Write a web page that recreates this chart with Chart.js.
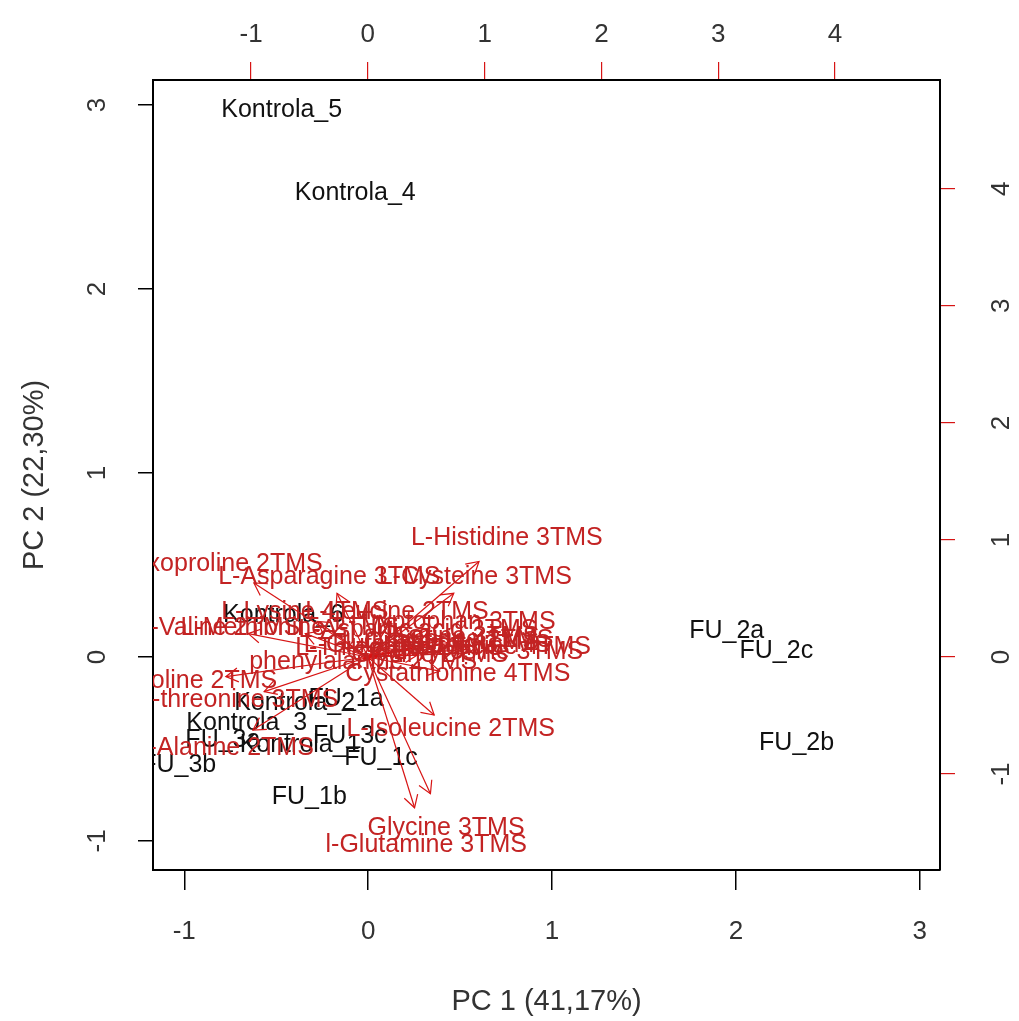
<!DOCTYPE html>
<html>
<head>
<meta charset="utf-8">
<script src="https://cdn.jsdelivr.net/npm/chart.js@4.4.0/dist/chart.umd.min.js"></script>
<style>
  html, body { margin: 0; padding: 0; background: #fff; }
  #wrap { width: 1019px; height: 1021px; }
</style>
</head>
<body>
<div id="wrap"><canvas id="biplot" width="1019" height="1021"></canvas></div>
<script>
// sample scores (PC 1 / PC 2)
const sampleNames = ['Kontrola_5', 'Kontrola_4', 'Kontrola_6', 'Kontrola_2', 'Kontrola_3', 'Kontrola_1',
    'FU_1a', 'FU_1b', 'FU_1c', 'FU_2a', 'FU_2b', 'FU_2c', 'FU_3a', 'FU_3b', 'FU_3c'];
const samplePC1 = [-0.47, -0.07, -0.46, -0.40, -0.66, -0.37, -0.12, -0.32, 0.07, 1.95, 2.33, 2.22, -0.79, -1.03, -0.10];
const samplePC2 = [2.97, 2.52, 0.23, -0.25, -0.36, -0.48, -0.23, -0.76, -0.55, 0.14, -0.47, 0.03, -0.45, -0.59, -0.43];

// variable loadings (top / right axes)
const varNames = ['L-Histidine 3TMS', 'L-Cysteine 3TMS', 'L-Asparagine 3TMS', 'Oxoproline 2TMS',
    'L-Lysine 4TMS', 'L-Leucine 2TMS', 'L-Valine 2TMS', 'L-Methionine 2TMS', 'L-Tryptophan 3TMS',
    'L-Aspartic acid 3TMS', 'L-Serine 3TMS', 'L-Serine 2TMS', 'L-Ornithine 4TMS', 'L-Threonine 2TMS',
    'Putrescine 4TMS', 'L-Glutamic acid 3TMS', 'L-Tyrosine 3TMS', 'Glycine 2TMS', 'phenylalanine 2TMS',
    'Cystathionine 4TMS', 'L-Proline 2TMS', 'L-threonine 3TMS', 'L-Alanine 2TMS', 'L-Isoleucine 2TMS',
    'Glycine 3TMS', 'l-Glutamine 3TMS'];
const varPC1 = [1.19, 0.92, -0.33, -1.22, -0.54, 0.25, -1.28, -0.67, 0.66, 0.43, 0.75, 0.87, 0.62, 0.27,
    1.09, 0.51, 1.03, 0.53, -0.04, 0.77, -1.52, -1.11, -1.23, 0.71, 0.67, 0.50];
const varPC2 = [1.02, 0.68, 0.68, 0.79, 0.38, 0.38, 0.25, 0.25, 0.30, 0.23, 0.17, 0.145, 0.13, 0.08,
    0.085, 0.10, 0.04, 0.02, -0.04, -0.15, -0.21, -0.37, -0.78, -0.62, -1.46, -1.61];

// tick labels
const pc1Ticks = [-1, 0, 1, 2, 3];
const pc2Ticks = [-1, 0, 1, 2, 3];
const loadXTicks = [-1, 0, 1, 2, 3, 4];
const loadYTicks = [-1, 0, 1, 2, 3, 4];

const RED = 'rgb(215, 20, 20)';
const TXT = 'rgb(195, 35, 35)';
const labelFont = '25px "Liberation Sans", Arial, sans-serif';
const tickFamily = '"Liberation Sans Narrow", "Liberation Sans", Arial, sans-serif';

const samplePoints = sampleNames.map((n, i) => ({ x: samplePC1[i], y: samplePC2[i] }));
const varPoints = varNames.map((n, i) => ({ x: varPC1[i], y: varPC2[i] }));

// R biplot draws the arrows to 0.8 of the loading, text at the loading
const arrowSets = varNames.map((n, i) => ({
    label: n,
    data: [{ x: 0, y: 0 }, { x: 0.8 * varPC1[i], y: 0.8 * varPC2[i] }],
    xAxisID: 'x2',
    yAxisID: 'y2',
    showLine: true,
    borderColor: RED,
    borderWidth: 1.2,
    pointRadius: 0
}));

const biplotText = {
    id: 'biplotText',
    beforeDatasetsDraw(chart) {
        const {ctx, chartArea: a} = chart;
        const meta = chart.getDatasetMeta(0);
        ctx.save();
        ctx.beginPath();
        ctx.rect(a.left, a.top, a.right - a.left, a.bottom - a.top);
        ctx.clip();
        ctx.font = labelFont;
        ctx.fillStyle = '#111';
        ctx.textAlign = 'center';
        ctx.textBaseline = 'middle';
        meta.data.forEach((p, i) => ctx.fillText(sampleNames[i], p.x, p.y));
        ctx.restore();
    },
    afterDatasetsDraw(chart) {
        const {ctx, chartArea: a} = chart;
        ctx.save();
        ctx.beginPath();
        ctx.rect(a.left, a.top, a.right - a.left, a.bottom - a.top);
        ctx.clip();
        // arrow heads
        ctx.strokeStyle = RED;
        ctx.lineWidth = 1.2;
        for (let i = 0; i < varNames.length; i++) {
            const pts = chart.getDatasetMeta(2 + i).data;
            const x0 = pts[0].x, y0 = pts[0].y, x1 = pts[1].x, y1 = pts[1].y;
            const ang = Math.atan2(y1 - y0, x1 - x0);
            const len = 14;
            ctx.beginPath();
            ctx.moveTo(x1 - len * Math.cos(ang - Math.PI / 6), y1 - len * Math.sin(ang - Math.PI / 6));
            ctx.lineTo(x1, y1);
            ctx.lineTo(x1 - len * Math.cos(ang + Math.PI / 6), y1 - len * Math.sin(ang + Math.PI / 6));
            ctx.stroke();
        }
        // variable names
        const meta = chart.getDatasetMeta(1);
        ctx.font = labelFont;
        ctx.fillStyle = TXT;
        ctx.textAlign = 'center';
        ctx.textBaseline = 'middle';
        meta.data.forEach((p, i) => ctx.fillText(varNames[i], p.x, p.y));
        ctx.restore();
    },
    afterDraw(chart) {
        // R writes the vertical axis labels parallel to the axis
        const {ctx} = chart;
        ctx.save();
        ctx.font = '26px ' + tickFamily;
        ctx.fillStyle = '#333';
        ctx.textAlign = 'center';
        ctx.textBaseline = 'middle';
        [['y', 98], ['y2', 1002]].forEach(([id, xPos]) => {
            const s = chart.scales[id];
            s.ticks.forEach(t => {
                const py = s.getPixelForValue(t.value);
                ctx.save();
                ctx.translate(xPos, py);
                ctx.rotate(-Math.PI / 2);
                ctx.fillText(String(t.value), 0, 0);
                ctx.restore();
            });
        });
        ctx.restore();
    }
};

const setTicks = arr => scale => { scale.ticks = arr.map(v => ({ value: v })); };

new Chart(document.getElementById('biplot'), {
    type: 'scatter',
    data: {
        datasets: [
            { label: 'samples', data: samplePoints, xAxisID: 'x', yAxisID: 'y', pointRadius: 0 },
            { label: 'variables', data: varPoints, xAxisID: 'x2', yAxisID: 'y2', pointRadius: 0 },
            ...arrowSets
        ]
    },
    options: {
        responsive: false,
        animation: false,
        layout: { padding: 0 },
        plugins: { legend: { display: false }, tooltip: { enabled: false } },
        scales: {
            x: {
                type: 'linear', position: 'bottom', min: -1.17, max: 3.11,
                afterBuildTicks: setTicks(pc1Ticks),
                afterFit: s => { s.height = 151; },
                grid: { drawOnChartArea: false, tickLength: 20, color: '#000', lineWidth: 1.5 },
                border: { color: '#000', width: 2 },
                ticks: { color: '#333', padding: 26, font: { family: tickFamily, size: 26 } },
                title: { display: true, text: 'PC 1 (41,17%)', color: '#333', padding: { top: 0, bottom: 2 },
                    font: { family: tickFamily, size: 29 } }
            },
            y: {
                type: 'linear', position: 'left', min: -1.158, max: 3.136,
                afterBuildTicks: setTicks(pc2Ticks),
                afterFit: s => { s.width = 153; },
                grid: { drawOnChartArea: false, tickLength: 15, color: '#000', lineWidth: 1.5 },
                border: { color: '#000', width: 2 },
                ticks: { display: false },
                title: { display: true, text: 'PC 2 (22,30%)', color: '#333', padding: { top: 18, bottom: 0 },
                    font: { family: tickFamily, size: 29 } }
            },
            x2: {
                type: 'linear', position: 'top', min: -1.84, max: 4.90,
                afterBuildTicks: setTicks(loadXTicks),
                afterFit: s => { s.height = 80; },
                grid: { drawOnChartArea: false, tickLength: 18, color: RED, lineWidth: 1.2 },
                border: { color: '#000', width: 2 },
                ticks: { color: '#333', padding: 12, font: { family: tickFamily, size: 26 } }
            },
            y2: {
                type: 'linear', position: 'right', min: -1.82, max: 4.93,
                afterBuildTicks: setTicks(loadYTicks),
                afterFit: s => { s.width = 79; },
                grid: { drawOnChartArea: false, tickLength: 15, color: RED, lineWidth: 1.2 },
                border: { color: '#000', width: 2 },
                ticks: { display: false }
            }
        }
    },
    plugins: [biplotText]
});
</script>
</body>
</html>
